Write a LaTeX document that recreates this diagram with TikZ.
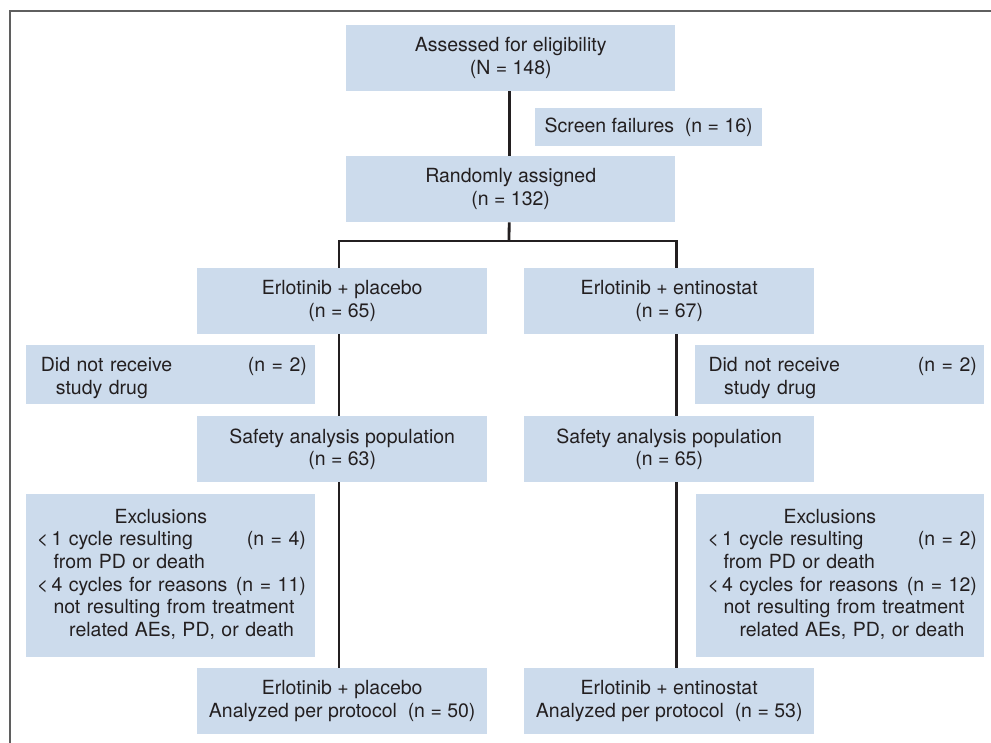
\documentclass[tikz,border=0pt]{standalone}
\usepackage{fontspec}
\setmainfont{TeX Gyre Heros}
\definecolor{boxblue}{RGB}{204,219,236}
\definecolor{ink}{RGB}{35,31,32}
\definecolor{framegray}{RGB}{95,95,95}
\tikzset{
  box/.style={fill=boxblue, draw=none, inner sep=0pt, anchor=north west, align=center, text=ink,
    font=\fontsize{19.5}{22.6}\selectfont},
  txt/.style={inner sep=0pt, anchor=west, align=left, text=ink,
    font=\fontsize{19.5}{22.6}\selectfont},
  conn/.style={draw=ink, line width=2.8pt},
  frameline/.style={draw=framegray, line width=2pt},
}
\begin{document}
\begin{tikzpicture}[x=1pt,y=-1pt]
\useasboundingbox (0,0) rectangle (991,743);
% frame
\coordinate (fbl) at (10,743);
\coordinate (ftl) at (10,11);
\coordinate (ftr) at (991,11);
\draw[frameline] (fbl) -- (ftl) -- (ftr);

% top boxes
\node[box, minimum width=329pt, minimum height=66pt] (assess) at (346,25) {Assessed for eligibility\\(N = 148)};
\node[box, minimum width=227pt, minimum height=38pt] (screen) at (535,108) {Screen failures~ (n = 16)};
\node[box, minimum width=329pt, minimum height=66pt] (rand) at (346,156) {Randomly assigned\\(n = 132)};

% arm boxes
\node[box, minimum width=290pt, minimum height=66pt] (pl) at (197,268) {Erlotinib + placebo\\(n = 65)};
\node[box, minimum width=290pt, minimum height=66pt] (pe) at (524,268) {Erlotinib + entinostat\\(n = 67)};

% did not receive
\node[box, minimum width=289pt, minimum height=59pt] (dnr1) at (26,345) {};
\node[txt, text width=266pt] (dnr1t) at ([xshift=14.7pt,yshift=-3.5pt]dnr1.west)
  {\makebox[266pt][l]{Did not receive\hfill(n = 2)}\\\hspace*{15pt}study drug};
\node[box, minimum width=289pt, minimum height=59pt] (dnr2) at (695,345) {};
\node[txt, text width=268.4pt] (dnr2t) at ([xshift=13.3pt,yshift=-3.5pt]dnr2.west)
  {\makebox[268.4pt][l]{Did not receive\hfill(n = 2)}\\\hspace*{15.7pt}study drug};

% safety
\node[box, minimum width=290pt, minimum height=66pt] (saf1) at (197,416) {Safety analysis population\\(n = 63)};
\node[box, minimum width=290pt, minimum height=66pt] (saf2) at (524,416) {Safety analysis population\\(n = 65)};

% exclusions
\node[box, minimum width=289pt, minimum height=163pt] (exc1) at (26,494) {};
\node[txt, text width=269pt] (exc1t) at ([xshift=10.7pt,yshift=1.5pt]exc1.west)
  {\hspace*{77.6pt}Exclusions\\
   \makebox[269pt][l]{<\,1 cycle resulting\hfill(n = 4)}\\
   \hspace*{16.6pt}from PD or death\\
   \makebox[269pt][l]{<\,4 cycles for reasons\hfill(n = 11)}\\
   \hspace*{16.6pt}not resulting from treatment\\
   \hspace*{32.3pt}related AEs, PD, or death};
\node[box, minimum width=288pt, minimum height=163pt] (exc2) at (696,494) {};
\node[txt, text width=269.4pt] (exc2t) at ([xshift=11.3pt,yshift=1.5pt]exc2.west)
  {\hspace*{76pt}Exclusions\\
   \makebox[269.4pt][l]{<\,1 cycle resulting\hfill(n = 2)}\\
   \hspace*{16pt}from PD or death\\
   \makebox[269.4pt][l]{<\,4 cycles for reasons\hfill(n = 12)}\\
   \hspace*{16pt}not resulting from treatment\\
   \hspace*{32pt}related AEs, PD, or death};

% final
\node[box, minimum width=290pt, minimum height=66pt] (fin1) at (197,668) {Erlotinib + placebo\\Analyzed per protocol~ (n = 50)};
\node[box, minimum width=290pt, minimum height=66pt] (fin2) at (524,668) {Erlotinib + entinostat\\Analyzed per protocol~ (n = 53)};

% connectors
\coordinate (jL) at (339,241);
\coordinate (jR) at (676.7,241);
\coordinate (jM) at (509,241);
\draw[conn] ([xshift=-1.5pt]assess.south) -- ([xshift=-1.5pt]rand.north);
\draw[conn] ([xshift=-1.5pt]rand.south) -- (jM);
\draw[conn, line cap=rect] (jL) -- (jR);
\draw[conn] (jL) -- (jL |- pl.north);
\draw[conn] (jL |- pl.south) -- (jL |- saf1.north);
\draw[conn] (jL |- saf1.south) -- (jL |- fin1.north);
\draw[conn] (jR) -- (jR |- pe.north);
\draw[conn] (jR |- pe.south) -- (jR |- saf2.north);
\draw[conn] (jR |- saf2.south) -- (jR |- fin2.north);
\end{tikzpicture}
\end{document}
